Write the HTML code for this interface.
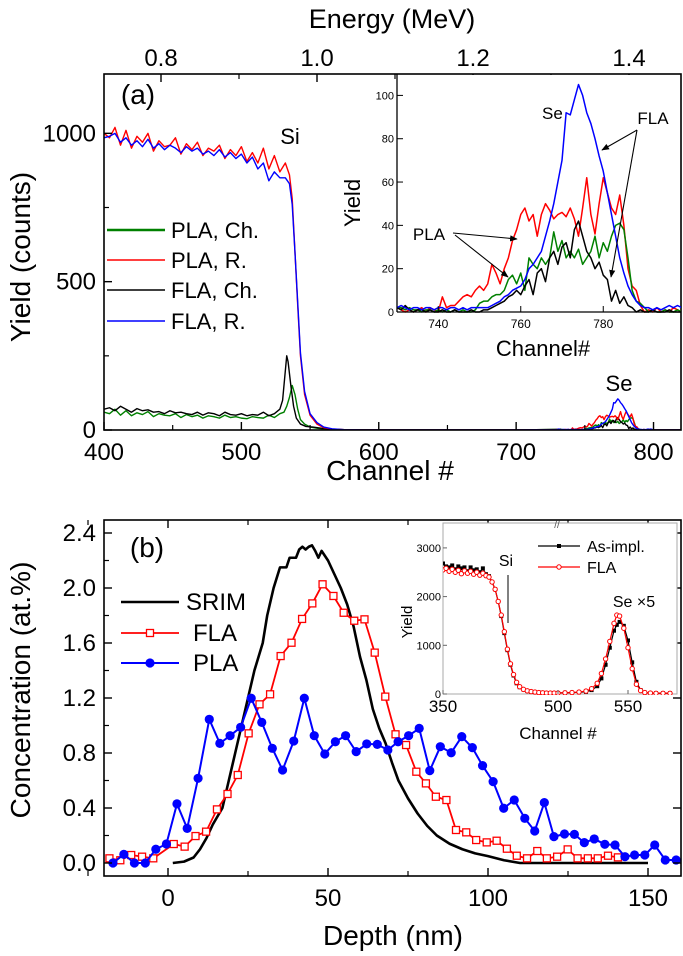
<!DOCTYPE html>
<html><head><meta charset="utf-8"><style>
html,body{margin:0;padding:0;background:#fff;}
svg{display:block;font-family:"Liberation Sans",Arial,sans-serif;}
</style></head><body>
<svg id="fig" width="683" height="956" viewBox="0 0 683 956" xmlns="http://www.w3.org/2000/svg">
<defs>
<clipPath id="clipA"><rect x="104" y="74" width="577" height="356"/></clipPath>
<clipPath id="clipAi"><rect x="397" y="74" width="284" height="239"/></clipPath>
<clipPath id="clipB"><rect x="104" y="520" width="577" height="356"/></clipPath>
<clipPath id="clipBi"><rect x="443" y="523" width="234" height="172"/></clipPath>
<marker id="arr" viewBox="0 0 10 10" refX="9" refY="5" markerWidth="7" markerHeight="7" orient="auto"><path d="M0,1 L10,5 L0,9 z" fill="#000"/></marker>
</defs>
<g id="root"></g>
</svg>
<script>
// ---------- Panel (a) main data ----------
const mainFlatCh = [];
for (let c = 400; c <= 528; c += 4) mainFlatCh.push(c);
const redFlat = [1000,985,1020,960,1010,950,990,970,1000,940,975,955,960,985,930,965,945,970,925,950,940,960,915,945,925,955,905,935,900,950,880,925,870];
const blueFlat = [985,990,1000,970,985,960,975,955,980,950,965,945,960,950,935,955,940,950,930,940,925,945,920,935,915,930,900,920,880,900,840,870,850];
const blackFlat = [70,75,65,80,70,60,72,65,68,60,62,55,65,58,60,55,52,60,50,58,55,48,60,52,50,55,48,52,50,60,48,55,70];
const greenFlat = [60,55,70,50,65,48,58,52,62,45,55,50,48,55,42,52,45,50,40,48,45,40,50,42,45,40,38,45,42,40,50,42,55];
const redEdgeCh = [532,535,537,539,541,543,546,550,555,560,566,575,590,620,700,729];
const redEdge = [900,860,780,600,420,250,120,50,20,8,3,1,0,0,0,1];
const blueEdgeCh = [532,535,537,539,541,543,546,550,555,560,566,575,590,620,700,729];
const blueEdge = [850,830,760,600,430,260,130,55,25,10,4,1,0,0,0,1];
const blackEdgeCh = [530,532,533,534,536,538,540,543,547,552,558,565,575,620,700,729];
const blackEdge = [100,200,250,230,150,80,40,20,12,10,6,3,1,0,0,2];
const greenEdgeCh = [531,533,535,537,539,541,543,546,550,555,560,570,620,700,729];
const greenEdge = [60,80,110,150,120,70,35,20,10,6,3,1,0,0,2];
// ---------- Panel (a) inset data (channels 730..799) ----------
const insetCh = [];
for (let c = 730; c <= 799; c++) insetCh.push(c);
const insRed = [2,1,0,1,0,1,2,0,2,1, 0,7,2,3,3,5,7,8,7,10, 12,10,13,22,18,13,20,25,33,38, 45,48,42,45,35,45,50,47,43,45, 46,44,48,43,35,48,62,45,36,50, 62,55,48,45,54,40,20,12,10,3, 0,1,0,2,0,1,0,2,1,0];
const insBlue = [2,3,2,1,2,2,1,2,2,1, 2,2,1,2,2,1,2,1,2,2, 2,2,2,3,4,5,7,8,10,11, 12,15,20,22,25,28,35,42,50,60, 70,92,91,98,105,100,92,87,80,72, 65,55,45,35,25,18,12,8,5,3, 2,2,1,2,1,2,3,2,3,2];
const insGreen = [2,2,1,2,1,1,0,1,1,0, 1,0,1,0,1,0,1,0,0,1, 4,5,5,7,8,8,10,15,17,13, 18,10,25,22,20,25,22,25,37,28, 33,25,28,25,29,22,25,28,35,25, 32,28,35,40,41,38,25,10,5,4, 2,0,1,0,0,1,0,0,1,0];
const insBlack = [2,1,3,1,0,1,1,0,1,0, 0,1,0,0,1,0,0,0,1,0, 0,1,1,2,3,4,5,7,8,10, 8,12,15,8,18,20,14,25,28,22, 30,32,25,38,42,35,28,25,20,23, 17,15,5,10,4,7,3,2,0,1, 0,0,1,0,0,0,1,0,0,0];
const aXTicks = [400,500,600,700,800];
const aYTicks = [0,500,1000];
const energyTicks = [0.8,1.0,1.2,1.4];
const aiXTicks = [740,760,780];
const aiYTicks = [0,20,40,60,80,100];
// ---------- Panel (b) data ----------
const srimX = [1.5,5,8,10,12,14,17,19,21,23,25,27,29.6,31,33,35,37,38,40,41,42,43,44,45,46,47,48,50,52,54,56,58,60,62,64,66,68,70,72,75,78,81,84,88,92,96,100,105,110,150];
const srimY = [0,0.01,0.04,0.1,0.18,0.28,0.4,0.6,0.8,1.0,1.2,1.4,1.6,1.8,2.0,2.15,2.15,2.22,2.22,2.28,2.3,2.28,2.3,2.31,2.27,2.22,2.27,2.2,2.1,2.0,1.88,1.72,1.5,1.33,1.12,0.98,0.87,0.73,0.6,0.47,0.36,0.27,0.2,0.14,0.1,0.07,0.05,0.02,0,0];
const flaX = [-18.3,-14.9,-11.5,-8.1,-4.6,1.8,5.2,8.6,11.9,15.3,18.6,21.8,25.2,28.6,31.9,35.2,38.6,41.9,45.1,48.3,51.7,54.9,58.2,61.4,64.6,67.9,71.1,74.4,77.6,80.6,83.7,87,90,93.2,96.3,99.6,102.7,105.9,109,112.2,115.4,118.4,121.6,124.9,128,131.2,134.3,137.5,140.6];
const flaY = [0.034,0.02,0.058,0.046,0.034,0.138,0.119,0.196,0.228,0.39,0.502,0.64,0.943,1.154,1.227,1.505,1.602,1.775,1.888,2.027,1.942,1.82,1.762,1.772,1.53,1.21,0.936,0.858,0.664,0.579,0.482,0.458,0.24,0.223,0.167,0.15,0.162,0.104,0.053,0.034,0.087,0.034,0.046,0.099,0.034,0.034,0.034,0.053,0.041];
const plaX = [-17.2,-13.8,-10.5,-7.1,-3.8,-0.5,2.8,6,9.4,12.9,16.2,19.4,22.7,26,29.3,32.6,35.8,39.3,42.6,45.7,49,52.3,55.5,58.8,62.1,65.4,68.7,71.9,75.2,78.5,81.8,85.1,88.5,91.8,95.1,98.3,101.6,104.9,108.2,111.5,114.6,117.6,120.6,123.9,127,130.1,133.2,136.5,139.7,142.8,145.8,149,152.1,155.4,158.8];
const plaY = [0,0.063,0,0,0.1,0.138,0.43,0.252,0.616,1.045,0.87,0.926,0.987,1.198,1.023,0.834,0.676,0.887,1.198,0.926,0.793,0.882,0.926,0.81,0.866,0.863,0.822,0.882,0.926,0.979,0.672,0.846,0.802,0.919,0.839,0.708,0.592,0.398,0.458,0.325,0.233,0.439,0.192,0.211,0.208,0.148,0.175,0.136,0.131,0.046,0.058,0.058,0.131,0.022,0.022];
const bXTicks = [0,50,100,150];
const bYTicks = [0,0.4,0.8,1.2,1.6,2.0,2.4];
const bYTickLabels = ["0.0","0.4","0.8","1.2","1.6","2.0","2.4"];
// ---------- Panel (b) inset data ----------
const ibCh = [350,354,358,362,366,370,374,378,382,386,390,394,398,402,406,410,414,418,422,426,430,434,438,442,446,450,455,460,465,470,475,480,485,490,495,500,505,510,515,520,524,528,531,534,537,540,542,544,547,550,553,556,559,562,566,570,575,580];
const ibBlack = [2680,2620,2600,2640,2560,2620,2580,2600,2520,2600,2540,2560,2500,2580,2460,2420,2300,2150,1900,1600,1250,900,600,380,220,140,90,60,45,35,30,25,20,20,20,20,25,30,35,45,80,160,320,600,950,1300,1420,1480,1400,1100,650,250,80,30,20,15,15,15];
const ibRed = [2550,2580,2520,2560,2500,2540,2470,2530,2480,2520,2460,2500,2440,2480,2430,2400,2300,2150,1900,1620,1280,920,620,400,240,150,95,65,50,40,30,25,20,20,20,20,25,30,40,60,110,220,420,720,1080,1450,1620,1600,1350,950,520,200,70,30,20,15,15,15];
const ibXTicks = [350,500,550];
const ibYTicks = [0,1000,2000,3000];

// ---------- scales ----------
const xa = c => 104 + (c - 400) * 577 / 420;
const ya = v => 430 - v * 356 / 1200;
const xe = e => 161 + (e - 0.8) * 780;
const xi = c => 397 + (c - 730) * 4.125;
const yi = v => 312 - v * 2.166;
const xb = d => 168 + d * 3.2;
const yb = v => 863 - v * 137.5;
const xib = c => c <= 500 ? 443 + (c - 350) * 115 / 150 : 558 + (c - 500) * 1.4;
const yib = v => 694 - v * 0.0487;

const NS = "http://www.w3.org/2000/svg";
const root = document.getElementById("root");
function mk(tag, attrs, parent) {
  const e = document.createElementNS(NS, tag);
  for (const k in attrs) e.setAttribute(k, attrs[k]);
  (parent || root).appendChild(e);
  return e;
}
function txt(s, x, y, size, name, parent, extra) {
  const t = mk("text", Object.assign({x: x, y: y, "font-size": size, fill: "#000"}, extra || {}), parent);
  t.textContent = s;
  
  
  return t;
}
function pathFrom(xs, ys, sx, sy) {
  return xs.map((x, i) => (i ? "L" : "M") + sx(x).toFixed(2) + "," + sy(ys[i]).toFixed(2)).join("");
}
function series(xs, ys, sx, sy, color, w, name, parent) {
  const p = mk("path", {d: pathFrom(xs, ys, sx, sy), fill: "none", stroke: color, "stroke-width": w, "stroke-linejoin": "round"}, parent);
  
  
  return p;
}
function ln(x1, y1, x2, y2, w, name, parent, color) {
  const l = mk("line", {x1: x1, y1: y1, x2: x2, y2: y2, stroke: color || "#000", "stroke-width": w}, parent);
  
  
  return l;
}

// ================= PANEL (a) =================
const gA = mk("g", {"clip-path": "url(#clipA)"});


const tailCh = [800, 810, 820];
const tailV = [0, 0, 0];
series(mainFlatCh.concat(greenEdgeCh, insetCh, tailCh), greenFlat.concat(greenEdge, insGreen, tailV), xa, ya, "#008000", 1.4, "series-pla-ch", gA);
series(mainFlatCh.concat(blackEdgeCh, insetCh, tailCh), blackFlat.concat(blackEdge, insBlack, tailV), xa, ya, "#000", 1.4, "series-fla-ch", gA);
series(mainFlatCh.concat(redEdgeCh, insetCh, tailCh), redFlat.concat(redEdge, insRed, tailV), xa, ya, "#ff0000", 1.4, "series-pla-r", gA);
series(mainFlatCh.concat(blueEdgeCh, insetCh, tailCh), blueFlat.concat(blueEdge, insBlue, tailV), xa, ya, "#0000ff", 1.4, "series-fla-r", gA);

// frame a
const fa = mk("rect", {x: 104, y: 74, width: 577, height: 356, fill: "none", stroke: "#000", "stroke-width": 1.6});


aXTicks.forEach(t => {
  ln(xa(t), 430, xa(t), 422, 1.4, "x-tick-a");
  txt(String(t), xa(t), 460, 24, "x-tick-label-a", null, {"text-anchor": "middle"});
});
[450,550,650,750].forEach(t => ln(xa(t), 430, xa(t), 425, 1.2, "x-minor-tick-a"));
aYTicks.forEach(t => {
  ln(104, ya(t), 112, ya(t), 1.4, "y-tick-a");
  txt(String(t), 96, ya(t) + 8, 24, "y-tick-label-a", null, {"text-anchor": "end"});
});
[250,750].forEach(t => ln(104, ya(t), 109, ya(t), 1.2, "y-minor-tick-a"));
energyTicks.forEach(t => {
  ln(xe(t), 74, xe(t), 82, 1.4, "energy-tick");
  txt(t.toFixed(1), xe(t), 66, 24, "energy-tick-label", null, {"text-anchor": "middle"});
});
[0.9,1.1,1.3].forEach(t => ln(xe(t), 74, xe(t), 79, 1.2, "energy-minor-tick"));
txt("Energy (MeV)", 392, 28, 27, "energy-axis-title", null, {"text-anchor": "middle"});
txt("Channel #", 390, 480, 28, "x-axis-title-a", null, {"text-anchor": "middle"});
txt("Yield (counts)", 0, 0, 28, "y-axis-title-a", null, {"text-anchor": "middle", transform: "translate(30,257) rotate(-90)"});
txt("(a)", 138, 104, 28, "panel-a-label", null, {"text-anchor": "middle"});
txt("Si", 290, 144, 22, "si-label-a", null, {"text-anchor": "middle"});
txt("Se", 619, 391, 22, "se-label-a", null, {"text-anchor": "middle"});
// legend a
const legA = [["PLA, Ch.", "#008000", 2.6, 230], ["PLA, R.", "#ff0000", 1.5, 260], ["FLA, Ch.", "#000", 1.5, 290], ["FLA, R.", "#0000ff", 1.5, 321]];
legA.forEach(l => {
  ln(107, l[3], 165, l[3], l[2], "legend-line-a", null, l[1]);
  txt(l[0], 171, l[3] + 8, 22, "legend-entry-a");
});

// ---- inset a ----
const bgI = mk("rect", {x: 397, y: 75, width: 283, height: 237, fill: "#fff"});


const gAi = mk("g", {"clip-path": "url(#clipAi)"});


series(insetCh, insRed, xi, yi, "#ff0000", 1.5, "inset-series-pla-r", gAi);
series(insetCh, insGreen, xi, yi, "#008000", 1.5, "inset-series-pla-ch", gAi);
series(insetCh, insBlack, xi, yi, "#000", 1.5, "inset-series-fla-ch", gAi);
series(insetCh, insBlue, xi, yi, "#0000ff", 1.5, "inset-series-fla-r", gAi);
ln(397, 74, 397, 312, 1.3, "inset-a-y-axis");
ln(397, 312, 681, 312, 1.3, "inset-a-x-axis");
aiXTicks.forEach(t => {
  ln(xi(t), 312, xi(t), 306, 1, "inset-a-x-tick");
  txt(String(t), xi(t), 328, 12, "inset-a-x-tick-label", null, {"text-anchor": "middle"});
});
aiYTicks.forEach(t => {
  ln(397, yi(t), 403, yi(t), 1, "inset-a-y-tick");
  txt(String(t), 394, yi(t) + 4, 11, "inset-a-y-tick-label", null, {"text-anchor": "end"});
});
txt("Channel#", 543, 356, 22, "inset-a-x-title", null, {"text-anchor": "middle"});
txt("Yield", 0, 0, 22, "inset-a-y-title", null, {"text-anchor": "middle", transform: "translate(360,203) rotate(-90)"});
txt("Se", 542, 119, 17, "inset-se-label");
txt("FLA", 653, 124, 17, "inset-fla-label", null, {"text-anchor": "middle"});
txt("PLA", 429, 240, 17, "inset-pla-label", null, {"text-anchor": "middle"});
[[637,130,602,150],[637,130,611,277],[453,233,517,239],[455,235,508,277]].forEach(a => {
  const l = ln(a[0], a[1], a[2], a[3], 1.1, "annotation-arrow");
  l.setAttribute("marker-end", "url(#arr)");
});

// ================= PANEL (b) =================
const gB = mk("g", {"clip-path": "url(#clipB)"});


series(srimX, srimY, xb, yb, "#000", 2.6, "series-srim", gB);
series(flaX, flaY, xb, yb, "#ff0000", 1.8, "series-fla", gB);
flaX.forEach((d, i) => {
  const r = mk("rect", {x: xb(d) - 3.5, y: yb(flaY[i]) - 3.5, width: 7, height: 7, fill: "#fff", stroke: "#ff0000", "stroke-width": 1.3}, gB);
  
  
});
series(plaX, plaY, xb, yb, "#0000ff", 2, "series-pla", gB);
plaX.forEach((d, i) => {
  const c = mk("circle", {cx: xb(d), cy: yb(plaY[i]), r: 4.6, fill: "#0000ff"}, gB);
  
  
});
const fb = mk("rect", {x: 104, y: 520, width: 577, height: 356, fill: "none", stroke: "#000", "stroke-width": 1.6});


bXTicks.forEach(t => {
  ln(xb(t), 876, xb(t), 868, 1.4, "x-tick-b");
  ln(xb(t), 520, xb(t), 528, 1.4, "x-tick-b-top");
  txt(String(t), xb(t), 906, 24, "x-tick-label-b", null, {"text-anchor": "middle"});
});
[-25,25,75,125].forEach(t => { ln(xb(t), 876, xb(t), 871, 1.2, "x-minor-tick-b"); ln(xb(t), 520, xb(t), 525, 1.2, "x-minor-tick-b-top"); });
bYTicks.forEach((t, i) => {
  ln(104, yb(t), 112, yb(t), 1.4, "y-tick-b");
  ln(681, yb(t), 673, yb(t), 1.4, "y-tick-b-right");
  txt(bYTickLabels[i], 96, yb(t) + 8, 24, "y-tick-label-b", null, {"text-anchor": "end"});
});
[0.2,0.6,1.0,1.4,1.8,2.2].forEach(t => ln(104, yb(t), 109, yb(t), 1.2, "y-minor-tick-b"));
txt("Depth (nm)", 393, 945, 28, "x-axis-title-b", null, {"text-anchor": "middle"});
txt("Concentration (at.%)", 0, 0, 28, "y-axis-title-b", null, {"text-anchor": "middle", transform: "translate(30,690) rotate(-90)"});
txt("(b)", 147, 557, 28, "panel-b-label", null, {"text-anchor": "middle"});
// legend b
ln(121, 602, 179, 602, 2.6, "legend-line-srim");
txt("SRIM", 186, 610, 24, "legend-entry-srim");
ln(121, 633, 179, 633, 1.8, "legend-line-fla", null, "#ff0000");
const lr = mk("rect", {x: 146.5, y: 629.5, width: 7, height: 7, fill: "#fff", stroke: "#ff0000", "stroke-width": 1.3});


txt("FLA", 193, 641, 24, "legend-entry-fla");
ln(121, 663, 179, 663, 2, "legend-line-pla", null, "#0000ff");
const lc = mk("circle", {cx: 150, cy: 663, r: 4.6, fill: "#0000ff"});


txt("PLA", 193, 671, 24, "legend-entry-pla");

// ---- inset b ----
const fib = mk("rect", {x: 443, y: 523, width: 234, height: 171, fill: "#fff", stroke: "#aaa", "stroke-width": 1});


const gBi = mk("g", {"clip-path": "url(#clipBi)"});


series(ibCh, ibBlack, xib, yib, "#000", 1.2, "inset-series-as-impl", gBi);
ibCh.forEach((c, i) => {
  const r = mk("rect", {x: xib(c) - 2, y: yib(ibBlack[i]) - 2, width: 4, height: 4, fill: "#000"}, gBi);
  
  
});
series(ibCh, ibRed, xib, yib, "#ff0000", 1.2, "inset-series-fla", gBi);
ibCh.forEach((c, i) => {
  const r = mk("circle", {cx: xib(c), cy: yib(ibRed[i]), r: 2.2, fill: "#fff", stroke: "#ff0000", "stroke-width": 1}, gBi);
  
  
});
ibXTicks.forEach(t => {
  ln(xib(t), 694, xib(t), 690, 1, "inset-b-x-tick", null, "#666");
  txt(String(t), xib(t), 712, 17, "inset-b-x-tick-label", null, {"text-anchor": "middle"});
});
ibYTicks.forEach(t => {
  ln(443, yib(t), 447, yib(t), 1, "inset-b-y-tick", null, "#666");
  txt(String(t), 441, yib(t) + 4, 11, "inset-b-y-tick-label", null, {"text-anchor": "end"});
});
txt("//", 557, 528, 10, "axis-break-mark", null, {"text-anchor": "middle", fill: "#555"});
txt("Channel #", 558, 739, 17, "inset-b-x-title", null, {"text-anchor": "middle"});
txt("Yield", 0, 0, 15, "inset-b-y-title", null, {"text-anchor": "middle", transform: "translate(412,622) rotate(-90)"});
txt("Si", 506, 566, 16, "inset-si-label", null, {"text-anchor": "middle"});
ln(508, 575, 508, 623, 1, "inset-si-marker-line");
txt("Se ×5", 634, 607, 16, "inset-se-label", null, {"text-anchor": "middle"});
ln(538, 546, 580, 546, 1.3, "inset-legend-line-as-impl");
const lsq = mk("rect", {x: 557, y: 544, width: 4, height: 4, fill: "#000"});


txt("As-impl.", 587, 552, 16, "inset-legend-entry-as-impl");
ln(538, 567, 580, 567, 1.3, "inset-legend-line-fla", null, "#ff0000");
const lci = mk("circle", {cx: 559, cy: 567, r: 2.2, fill: "#fff", stroke: "#ff0000"});


txt("FLA", 587, 573, 16, "inset-legend-entry-fla");
</script>
</body></html>
